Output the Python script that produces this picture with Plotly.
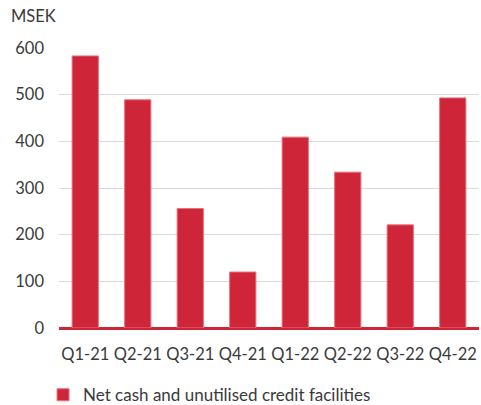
import plotly.graph_objects as go

categories = ["Q1-21", "Q2-21", "Q3-21", "Q4-21", "Q1-22", "Q2-22", "Q3-22", "Q4-22"]
values = [583, 489, 256, 120, 409, 334, 221, 493]
series_name = "Net cash and unutilised credit facilities"
y_ticks = [0, 100, 200, 300, 400, 500, 600]

RED = "#CE2538"
FONT = "Lato"
TXT = "#3A3A3A"

fig = go.Figure()
fig.add_trace(go.Bar(
    x=categories, y=values, name=series_name,
    marker=dict(color=RED, line=dict(color="#E8707C", width=1)),
))

fig.update_layout(
    width=481, height=405,
    margin=dict(l=59, r=2, t=48, b=77, autoexpand=False),
    paper_bgcolor="white", plot_bgcolor="white",
    bargap=0.5,
    showlegend=True,
    legend=dict(orientation="h", x=-0.038, xref="paper", xanchor="left",
                y=-0.24, yref="paper", yanchor="middle",
                font=dict(family=FONT, size=17, color=TXT), itemwidth=30,
                bgcolor="rgba(0,0,0,0)"),
    font=dict(family=FONT, size=16, color=TXT),
    annotations=[dict(text="MSEK", xref="paper", yref="paper", x=-0.12, y=1.0,
                      xanchor="left", yanchor="bottom", yshift=20, showarrow=False,
                      font=dict(family=FONT, size=16.5, color=TXT))],
)
fig.update_xaxes(showgrid=False, showline=False, ticks="", ticklabelstandoff=14,
                 automargin=False, tickfont=dict(family=FONT, size=16.5, color=TXT))
fig.update_yaxes(range=[0, 600], tickvals=y_ticks, showgrid=True, gridcolor="#DDD9D3",
                 gridwidth=1, zeroline=True, zerolinecolor=RED, zerolinewidth=3,
                 automargin=False, ticklabelstandoff=14,
                 tickfont=dict(family=FONT, size=16.5, color=TXT))

fig.write_html("out.html", config={"displayModeBar": False},
               post_script="document.body.style.margin='0';")
